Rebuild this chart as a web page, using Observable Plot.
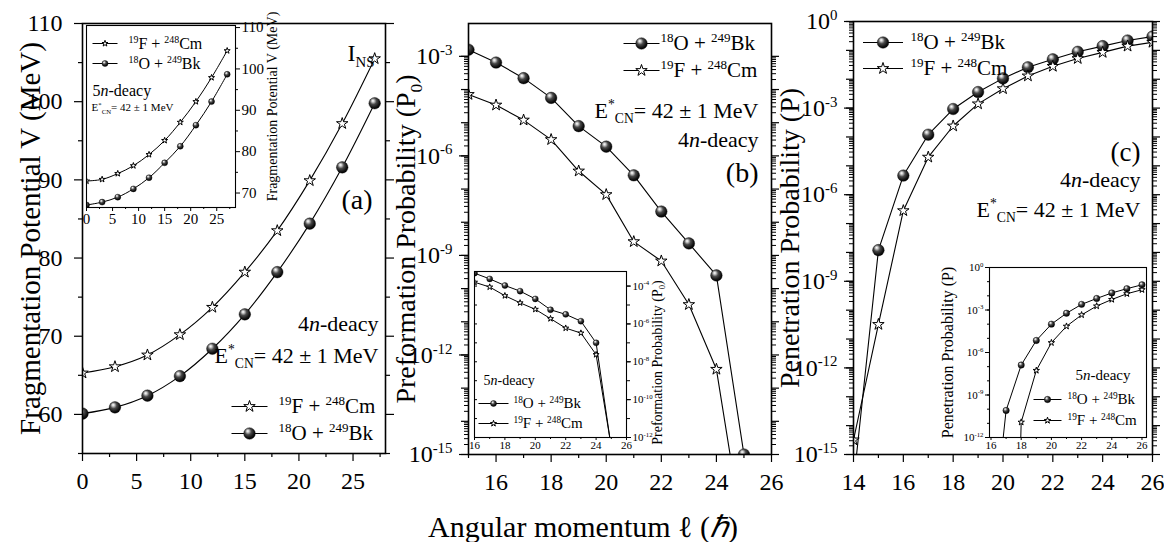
<!DOCTYPE html>
<html><head><meta charset="utf-8">
<script src="https://cdn.jsdelivr.net/npm/d3@7"></script>
<script src="https://cdn.jsdelivr.net/npm/@observablehq/plot@0.6"></script>
<style>
body{margin:0;background:#fff;}
#fig{position:relative;width:1164px;height:542px;overflow:hidden;background:#fff;}
</style></head><body>
<svg width="0" height="0" style="position:absolute"><defs>
<radialGradient id="sph" cx="0.42" cy="0.38" r="0.62" fx="0.34" fy="0.28">
<stop offset="0" stop-color="#ffffff"/><stop offset="0.16" stop-color="#d0d0d0"/>
<stop offset="0.45" stop-color="#4a4a4a"/><stop offset="0.8" stop-color="#141414"/>
<stop offset="1" stop-color="#000"/></radialGradient></defs></svg>
<div id="fig"></div>
<script>
// ---------------- data ----------------
// Panel (a): fragmentation potential V (MeV)
const ellA = [0, 3, 6, 9, 12, 15, 18, 21, 24, 27];
const vCm4n = [65.3, 66.1, 67.6, 70.2, 73.7, 78.2, 83.5, 89.9, 97.2, 105.5];
const vBk4n = [60.1, 60.9, 62.4, 64.9, 68.4, 72.8, 78.2, 84.4, 91.6, 99.8];
const vCm5n = [72.9, 73.3, 74.7, 76.6, 79.3, 82.7, 87.1, 92.1, 97.9, 104.4];
const vBk5n = [67.1, 67.8, 69.0, 71.0, 73.7, 77.3, 81.3, 86.4, 92.1, 98.7];
// Panel (b): preformation probability P0
const ellB = [15, 16, 17, 18, 19, 20, 21, 22, 23, 24, 25];
const p0Bk4n = [1.58e-3, 6.5e-4, 2.2e-4, 5.6e-5, 7.9e-6, 1.9e-6, 2.6e-7, 2.1e-8, 2.3e-9, 2.5e-10, 1e-15];
const p0Cm4n = [7.1e-5, 3.4e-5, 1.2e-5, 3.1e-6, 3.5e-7, 6.8e-8, 2.6e-9, 6.8e-10, 3.3e-11, 3.7e-13, 2.5e-18];
const ellBi = [16, 17, 18, 19, 20, 21, 22, 23, 24, 25];
const p0Bk5n = [4.8e-4, 2.4e-4, 1.07e-4, 5.4e-5, 2.1e-5, 5.6e-6, 3.2e-6, 1.4e-6, 1.0e-7, 2.8e-13];
const p0Cm5n = [1.6e-4, 8.9e-5, 3.1e-5, 1.3e-5, 5.9e-6, 1.9e-6, 6.0e-7, 3.3e-7, 2.4e-8, 3.2e-13];
// Panel (c): penetration probability P
const ellC = [14, 15, 16, 17, 18, 19, 20, 21, 22, 23, 24, 25, 26];
const pBk4n = [1e-16, 1.2e-8, 4.6e-6, 1.2e-4, 9.3e-4, 3.6e-3, 1.07e-2, 2.6e-2, 4.9e-2, 8.9e-2, 0.14, 0.22, 0.30];
const pCm4n = [3.2e-15, 3.2e-11, 2.8e-7, 2.0e-5, 2.4e-4, 1.4e-3, 4.7e-3, 1.3e-2, 2.8e-2, 5.2e-2, 8.5e-2, 0.14, 0.19];
const ellCi = [16, 17, 18, 19, 20, 21, 22, 23, 24, 25, 26];
const pBk5n = [1e-20, 8.1e-11, 1.3e-7, 7.1e-6, 1.0e-4, 5.9e-4, 2.5e-3, 6.5e-3, 1.6e-2, 3.2e-2, 6.0e-2];
const pCm5n = [null, 1e-50, 1.2e-11, 5.4e-8, 4.9e-6, 7.1e-5, 4.5e-4, 1.9e-3, 5.5e-3, 1.4e-2, 2.7e-2];

// ---------------- labels & ticks ----------------
const labBk = "^{18}O + ^{249}Bk";
const labCm = "^{19}F + ^{248}Cm";
const decay4 = "4~n~-deacy";
const decay5 = "5~n~-deacy";
const energyLabel = "E^{*}_{CN}= 42 ± 1 MeV";
const xTitle = "Angular momentum ℓ (~ℏ~)";
const yTitles = ["Fragmentation Potential V (MeV)", "Preformation Probability (P_{0})", "Penetration Probability (P)"];
const tags = ["(a)", "(b)", "(c)"];
const insTag = "I_{NS}";
const aXTicks = [0, 5, 10, 15, 20, 25];
const aXMinor = [2.5, 7.5, 12.5, 17.5, 22.5, 27.5];
const aYTicks = [60, 70, 80, 90, 100, 110];
const aYMinor = [55, 65, 75, 85, 95, 105];
const aiYTicks = [70, 80, 90, 100, 110];
const aiYMinor = [75, 85, 95, 105];
const bXTicks = [16, 18, 20, 22, 24, 26];
const bXMinor = [15, 17, 19, 21, 23, 25];
const bYLabExp = [-15, -12, -9, -6, -3];
const biYLabExp = [-12, -10, -8, -6, -4];
const cXTicks = [14, 16, 18, 20, 22, 24, 26];
const cXMinor = [15, 17, 19, 21, 23, 25];
const cYLabExp = [-15, -12, -9, -6, -3, 0];
const ciYLabExp = [-12, -9, -6, -3, 0];
const ciXTicks = [16, 18, 20, 22, 24, 26];
const ciXMinor = [17, 19, 21, 23, 25];

// ---------------- helpers ----------------
const W = 1164, H = 542;
const FONT = '"Liberation Serif","Times New Roman",serif';
const fig = document.getElementById("fig");
const blank = () => "";
const pow10 = d => `10^{${Math.round(Math.log10(d))}}`;
const exps = (a, b) => d3.range(a, b + 1).map(e => 10 ** e);
function minors(a, b) { const o = []; for (let e = a; e < b; e++) for (let k = 2; k < 10; k++) o.push(k * 10 ** e); return o; }
const hline = half => ({draw(ctx) { ctx.moveTo(-half, 0); ctx.lineTo(half, 0); }});
const T = (s, o) => Plot.text([s], {text: d => d, fill: "black", lineAnchor: "middle", ...o});
const table = (ell, vals, s) => ell.map((l, i) => ({l, v: vals[i], s}));

function series(data, kind, o) {
  const ok = data.filter(d => d.v != null);
  return [
    Plot.line(ok, {x: "l", y: "v", curve: o.curve || "linear", stroke: "black", strokeWidth: o.sw || 1.1, clip: true}),
    kind === "Bk"
      ? Plot.dot(ok, {x: "l", y: "v", r: o.rs, fill: "url(#sph)", stroke: "#000", strokeWidth: 0.4, clip: true})
      : Plot.dot(ok, {x: "l", y: "v", symbol: "star", r: o.rt, fill: "white", stroke: "black", strokeWidth: 1, clip: true})
  ];
}
function legend(rows, o) {
  return rows.flatMap(([label, kind], i) => {
    const dy = o.dy + i * o.gap;
    const base = {frameAnchor: o.anchor, dx: o.lx, dy};
    return [
      Plot.dot([0], {...base, symbol: hline(o.half), stroke: "black", fill: "none", strokeWidth: 1}),
      kind === "Bk"
        ? Plot.dot([0], {...base, r: o.rs, fill: "url(#sph)", stroke: "#000", strokeWidth: 0.4})
        : Plot.dot([0], {...base, symbol: "star", r: o.rt, fill: "white", stroke: "black", strokeWidth: 1}),
      T(label, {frameAnchor: o.anchor, dx: o.tx, dy, textAnchor: "start", fontSize: o.fs})
    ];
  });
}
function rich(svg) {
  svg.querySelectorAll("text").forEach(t => {
    const s = t.textContent;
    if (!/\^\{|_\{|~/.test(s)) return;
    const fs = parseFloat(getComputedStyle(t).fontSize);
    const parts = s.split(/(\^\{[^}]*\}|_\{[^}]*\}|~[^~]*~)/).filter(p => p !== "");
    t.textContent = "";
    let shift = 0;
    for (const p of parts) {
      const ts = document.createElementNS("http://www.w3.org/2000/svg", "tspan");
      let target = 0, txt = p, small = false, ital = false;
      if (p.startsWith("^{")) { target = -0.38 * fs; txt = p.slice(2, -1); small = true; }
      else if (p.startsWith("_{")) { target = 0.24 * fs; txt = p.slice(2, -1); small = true; }
      else if (p.startsWith("~")) { txt = p.slice(1, -1); ital = true; }
      const d = target - shift;
      if (d) ts.setAttribute("dy", d.toFixed(2));
      shift = target;
      if (small) ts.setAttribute("font-size", (fs * 0.62).toFixed(2));
      if (ital) ts.setAttribute("font-style", "italic");
      ts.textContent = txt;
      t.appendChild(ts);
    }
  });
}
function mk(frame, x, y, marks, fs) {
  const [l, r, t, b] = frame;
  const svg = Plot.plot({
    width: W, height: H,
    marginLeft: l, marginRight: W - r, marginTop: t, marginBottom: H - b,
    x: {...x, label: null}, y: {...y, label: null},
    style: {fontFamily: FONT, fontSize: fs + "px", background: "none", color: "black", overflow: "visible"},
    marks
  });
  svg.style.position = "absolute"; svg.style.left = "0px"; svg.style.top = "0px";
  svg.style.maxWidth = "none";
  fig.appendChild(svg);
  rich(svg);
}
const ax = (fn, ticks, o) => fn(ticks, {label: null, strokeWidth: 1.2, ...o});
const vtitle = (s, o) => T(s, {rotate: -90, textAnchor: "middle", ...o});

// ---------------- Panel (a) ----------------
const dA = [...table(ellA, vCm4n, "Cm"), ...table(ellA, vBk4n, "Bk")];
mk([82, 385, 23, 453], {domain: [0, 28]}, {domain: [55, 110]}, [
  ax(Plot.axisY, aYTicks, {anchor: "left", tickSize: 8, tickPadding: 12}),
  ax(Plot.axisY, aYMinor, {anchor: "left", tickSize: 4, tickFormat: blank}),
  ax(Plot.axisY, aYTicks, {anchor: "right", tickSize: 8, tickFormat: blank}),
  ax(Plot.axisY, aYMinor, {anchor: "right", tickSize: 4, tickFormat: blank}),
  ax(Plot.axisX, aXTicks, {anchor: "bottom", tickSize: 8, tickPadding: 10}),
  ax(Plot.axisX, aXMinor, {anchor: "bottom", tickSize: 4, tickFormat: blank}),
  ...series(dA.filter(d => d.s === "Cm"), "Cm", {curve: "catmull-rom", rt: 3.6}),
  ...series(dA.filter(d => d.s === "Bk"), "Bk", {curve: "catmull-rom", rs: 5.8}),
  Plot.frame({stroke: "black", strokeWidth: 1.6}),
  vtitle(yTitles[0], {frameAnchor: "left", dx: -52, fontSize: 29}),
  T(insTag, {frameAnchor: "top-right", dx: -38, dy: 30, textAnchor: "start", fontSize: 24}),
  T(tags[0], {frameAnchor: "top-right", dx: -13, dy: 177, textAnchor: "end", fontSize: 28}),
  T(decay4, {frameAnchor: "top-right", dx: -7, dy: 300, textAnchor: "end", fontSize: 22}),
  T(energyLabel, {frameAnchor: "top-right", dx: -7, dy: 332, textAnchor: "end", fontSize: 22}),
  ...legend([[labCm, "Cm"], [labBk, "Bk"]], {anchor: "bottom-right", lx: -136, tx: -107, dy: -47, gap: 27, half: 18, rs: 5.8, rt: 3.6, fs: 21})
], 24);

// inset (a)
const dAi = [...table(ellA, vCm5n, "Cm"), ...table(ellA, vBk5n, "Bk")];
mk([86, 235, 25, 207], {domain: [0, 28.6]}, {domain: [66.5, 110.5]}, [
  Plot.frame({fill: "white", stroke: "none"}),
  ax(Plot.axisY, aiYTicks, {anchor: "right", tickSize: 4, tickPadding: 2, strokeWidth: 1}),
  ax(Plot.axisY, aiYMinor, {anchor: "right", tickSize: 2, tickFormat: blank, strokeWidth: 1}),
  ax(Plot.axisX, aXTicks, {anchor: "bottom", tickSize: 4, tickPadding: 2, strokeWidth: 1}),
  ax(Plot.axisX, aXMinor, {anchor: "bottom", tickSize: 2, tickFormat: blank, strokeWidth: 1}),
  ...series(dAi.filter(d => d.s === "Cm"), "Cm", {curve: "catmull-rom", rt: 1.9, sw: 1}),
  ...series(dAi.filter(d => d.s === "Bk"), "Bk", {curve: "catmull-rom", rs: 3, sw: 1}),
  Plot.frame({stroke: "black", strokeWidth: 1.1}),
  vtitle(yTitles[0], {frameAnchor: "right", dx: 37, dy: -10, fontSize: 14}),
  ...legend([[labCm, "Cm"], [labBk, "Bk"]], {anchor: "top-left", lx: 18.5, tx: 42, dy: 18, gap: 20, half: 12.5, rs: 3, rt: 1.9, fs: 16}),
  T(decay5, {frameAnchor: "top-left", dx: 6, dy: 65, textAnchor: "start", fontSize: 16}),
  T(energyLabel, {frameAnchor: "top-left", dx: 5, dy: 82, textAnchor: "start", fontSize: 11})
], 15);

// ---------------- Panel (b) ----------------
const dB = [...table(ellB, p0Bk4n, "Bk"), ...table(ellB, p0Cm4n, "Cm")];
mk([468, 771, 23, 454], {domain: [15, 26]}, {type: "log", domain: [1e-15, 10 ** -2.01]}, [
  ax(Plot.axisY, bYLabExp.map(e => 10 ** e), {anchor: "left", tickSize: 9, tickPadding: 7, tickFormat: pow10}),
  ax(Plot.axisY, exps(-15, -3), {anchor: "left", tickSize: 7, tickFormat: blank}),
  ax(Plot.axisY, minors(-15, -3), {anchor: "left", tickSize: 4, tickFormat: blank, strokeWidth: 1}),
  ax(Plot.axisY, exps(-15, -3), {anchor: "right", tickSize: 7, tickFormat: blank}),
  ax(Plot.axisY, minors(-15, -3), {anchor: "right", tickSize: 4, tickFormat: blank, strokeWidth: 1}),
  ax(Plot.axisX, bXTicks, {anchor: "bottom", tickSize: 8, tickPadding: 10}),
  ax(Plot.axisX, bXMinor, {anchor: "bottom", tickSize: 4, tickFormat: blank}),
  ...series(dB.filter(d => d.s === "Bk"), "Bk", {rs: 5.8}),
  ...series(dB.filter(d => d.s === "Cm"), "Cm", {rt: 3.6}),
  Plot.frame({stroke: "black", strokeWidth: 1.6}),
  vtitle(yTitles[1], {frameAnchor: "left", dx: -62, fontSize: 28}),
  ...legend([[labBk, "Bk"], [labCm, "Cm"]], {anchor: "top-right", lx: -130, tx: -111, dy: 20, gap: 27, half: 18, rs: 5.8, rt: 3.6, fs: 21}),
  T(energyLabel, {frameAnchor: "top-right", dx: -13, dy: 87, textAnchor: "end", fontSize: 22}),
  T(decay4, {frameAnchor: "top-right", dx: -13, dy: 116, textAnchor: "end", fontSize: 22}),
  T(tags[1], {frameAnchor: "top-right", dx: -13, dy: 150, textAnchor: "end", fontSize: 28}),
  T(xTitle, {frameAnchor: "bottom", dx: -37, dy: 73, fontSize: 30})
], 24);

// inset (b)
const dBi = [...table(ellBi, p0Bk5n, "Bk"), ...table(ellBi, p0Cm5n, "Cm")];
mk([474, 626, 271, 437], {domain: [16, 26]}, {type: "log", domain: [1e-12, 10 ** -3.23]}, [
  Plot.frame({fill: "white", stroke: "none"}),
  ax(Plot.axisY, biYLabExp.map(e => 10 ** e), {anchor: "right", tickSize: 4, tickPadding: 2, tickFormat: pow10, strokeWidth: 1}),
  ax(Plot.axisY, exps(-12, -4), {anchor: "right", tickSize: 3, tickFormat: blank, strokeWidth: 1}),
  ax(Plot.axisY, exps(-12, -4), {anchor: "left", tickSize: -3, tickFormat: blank, strokeWidth: 1}),
  ax(Plot.axisX, bXTicks, {anchor: "bottom", tickSize: 3, tickPadding: 1, strokeWidth: 1}),
  ax(Plot.axisX, bXMinor.filter(v => v > 16), {anchor: "bottom", tickSize: 2, tickFormat: blank, strokeWidth: 1}),
  ...series(dBi.filter(d => d.s === "Bk"), "Bk", {rs: 3, sw: 1}),
  ...series(dBi.filter(d => d.s === "Cm"), "Cm", {rt: 1.9, sw: 1}),
  Plot.frame({stroke: "black", strokeWidth: 1.1}),
  vtitle(yTitles[1], {frameAnchor: "right", dx: 31, dy: 8, fontSize: 14}),
  T(decay5, {frameAnchor: "bottom-left", dx: 9, dy: -57, textAnchor: "start", fontSize: 14}),
  ...legend([[labBk, "Bk"], [labCm, "Cm"]], {anchor: "bottom-left", lx: 19, tx: 39, dy: -34, gap: 20, half: 15, rs: 3, rt: 1.9, fs: 15})
], 11);

// ---------------- Panel (c) ----------------
const dC = [...table(ellC, pBk4n, "Bk"), ...table(ellC, pCm4n, "Cm")];
mk([853, 1152, 21, 454], {domain: [14, 26]}, {type: "log", domain: [1e-15, 1]}, [
  ax(Plot.axisY, cYLabExp.map(e => 10 ** e), {anchor: "left", tickSize: 9, tickPadding: 7, tickFormat: pow10}),
  ax(Plot.axisY, exps(-15, 0), {anchor: "left", tickSize: 7, tickFormat: blank}),
  ax(Plot.axisY, minors(-15, 0), {anchor: "left", tickSize: 4, tickFormat: blank, strokeWidth: 1}),
  ax(Plot.axisY, exps(-15, 0), {anchor: "right", tickSize: 7, tickFormat: blank}),
  ax(Plot.axisY, minors(-15, 0), {anchor: "right", tickSize: 4, tickFormat: blank, strokeWidth: 1}),
  ax(Plot.axisX, cXTicks, {anchor: "bottom", tickSize: 8, tickPadding: 10}),
  ax(Plot.axisX, cXMinor, {anchor: "bottom", tickSize: 4, tickFormat: blank}),
  ...series(dC.filter(d => d.s === "Bk"), "Bk", {rs: 5.8}),
  ...series(dC.filter(d => d.s === "Cm"), "Cm", {rt: 3.6}),
  Plot.frame({stroke: "black", strokeWidth: 1.6}),
  vtitle(yTitles[2], {frameAnchor: "left", dx: -63, fontSize: 28}),
  ...legend([[labBk, "Bk"], [labCm, "Cm"]], {anchor: "top-left", lx: 29.5, tx: 57, dy: 21, gap: 26, half: 20, rs: 5.8, rt: 3.6, fs: 21}),
  T(tags[2], {frameAnchor: "top-right", dx: -12, dy: 131, textAnchor: "end", fontSize: 27}),
  T(decay4, {frameAnchor: "top-right", dx: -12, dy: 158, textAnchor: "end", fontSize: 22}),
  T(energyLabel, {frameAnchor: "top-right", dx: -12, dy: 188, textAnchor: "end", fontSize: 22})
], 24);

// inset (c)
const dCi = [...table(ellCi, pBk5n, "Bk"), ...table(ellCi, pCm5n, "Cm")];
mk([989, 1146, 267, 437], {domain: [15.9, 26.3]}, {type: "log", domain: [1e-12, 1]}, [
  Plot.frame({fill: "white", stroke: "none"}),
  ax(Plot.axisY, ciYLabExp.map(e => 10 ** e), {anchor: "left", tickSize: 4, tickPadding: 2, tickFormat: pow10, strokeWidth: 1}),
  ax(Plot.axisY, exps(-12, 0), {anchor: "left", tickSize: 2, tickFormat: blank, strokeWidth: 1}),
  ax(Plot.axisX, ciXTicks, {anchor: "bottom", tickSize: 3, tickPadding: 1, strokeWidth: 1}),
  ax(Plot.axisX, ciXMinor, {anchor: "bottom", tickSize: 2, tickFormat: blank, strokeWidth: 1}),
  ...series(dCi.filter(d => d.s === "Bk"), "Bk", {rs: 3.2, sw: 1}),
  ...series(dCi.filter(d => d.s === "Cm"), "Cm", {rt: 2, sw: 1}),
  Plot.frame({stroke: "black", strokeWidth: 1.1}),
  vtitle(yTitles[2], {frameAnchor: "left", dx: -42, fontSize: 16}),
  T(decay5, {frameAnchor: "bottom-right", dx: -16, dy: -62, textAnchor: "end", fontSize: 15}),
  ...legend([[labBk, "Bk"], [labCm, "Cm"]], {anchor: "bottom-right", lx: -99, tx: -79, dy: -38, gap: 21, half: 14, rs: 3.2, rt: 2, fs: 15})
], 11);
</script></body></html>
